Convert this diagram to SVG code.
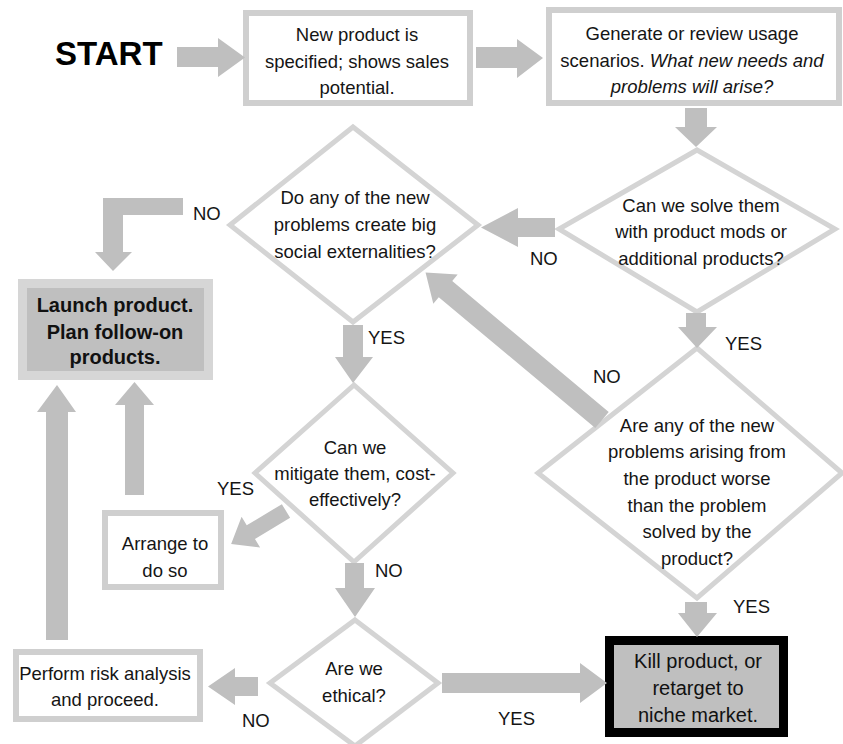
<svg xmlns="http://www.w3.org/2000/svg" width="843" height="744" viewBox="0 0 843 744">
<style>
.t{font-family:"Liberation Sans",Arial,sans-serif;font-size:18.5px;fill:#151515;text-anchor:middle}
.l{font-family:"Liberation Sans",Arial,sans-serif;font-size:18.5px;fill:#151515}
.i{font-style:italic}
.b{font-family:"Liberation Sans",Arial,sans-serif;font-size:20px;font-weight:bold;fill:#111;text-anchor:middle}
.k{font-family:"Liberation Sans",Arial,sans-serif;font-size:20px;fill:#111;text-anchor:middle}
.box{fill:#fff;stroke:#cfcfcf;stroke-width:6}
.dia{fill:none;stroke:#d4d4d4;stroke-width:5}
.arr{fill:#bfbfbf}
</style>
<rect width="843" height="744" fill="#fff"/>
<g id="start"><text x="55" y="65" style="font-family:'Liberation Sans',Arial,sans-serif;font-size:33px;font-weight:bold;fill:#000">START</text></g>
<g id="box1"><rect class="box" x="246" y="13" width="224" height="90"/>
<text class="t" x="357" y="41">New product is</text>
<text class="t" x="357" y="68">specified; shows sales</text>
<text class="t" x="357" y="94">potential.</text></g>
<g id="box2"><rect class="box" x="549" y="10" width="290" height="93"/>
<text class="t" x="692" y="40">Generate or review usage</text>
<text class="t" x="692" y="67">scenarios. <tspan class="i">What new needs and</tspan></text>
<text class="t i" x="692" y="93">problems will arise?</text></g>
<g id="d1"><polygon class="dia" points="697,150 835,229 697,312 559,229"/>
<text class="t" x="701" y="212">Can we solve them</text>
<text class="t" x="701" y="238">with product mods or</text>
<text class="t" x="701" y="265">additional products?</text></g>
<g id="d2"><polygon class="dia" points="353,127 478,225 353,322 230,225"/>
<text class="t" x="355" y="204">Do any of the new</text>
<text class="t" x="355" y="231">problems create big</text>
<text class="t" x="355" y="258">social externalities?</text></g>
<g id="d3"><polygon class="dia" points="697,348 842,473 697,598 538,473"/>
<text class="t" x="697" y="432">Are any of the new</text>
<text class="t" x="697" y="458">problems arising from</text>
<text class="t" x="697" y="485">the product worse</text>
<text class="t" x="697" y="512">than the problem</text>
<text class="t" x="697" y="538">solved by the</text>
<text class="t" x="697" y="565">product?</text></g>
<g id="d4"><polygon class="dia" points="354,385 453,473 354,562 255,473"/>
<text class="t" x="355" y="454">Can we</text>
<text class="t" x="355" y="480">mitigate them, cost-</text>
<text class="t" x="355" y="506">effectively?</text></g>
<g id="d5"><polygon class="dia" points="355,620 438,683 355,746 270,683"/>
<text class="t" x="354" y="675">Are we</text>
<text class="t" x="354" y="702">ethical?</text></g>
<g id="launch"><rect x="22.5" y="283.5" width="186" height="92" fill="#bfbfbf" stroke="#d6d6d6" stroke-width="9"/>
<text class="b" x="115" y="312">Launch product.</text>
<text class="b" x="115" y="339">Plan follow-on</text>
<text class="b" x="115" y="364">products.</text></g>
<g id="arrange"><rect class="box" x="105" y="513" width="116" height="74"/>
<text class="t" x="165" y="550">Arrange to</text>
<text class="t" x="165" y="577">do so</text></g>
<g id="perform"><rect class="box" x="16" y="652" width="184" height="67"/>
<text class="t" x="105" y="680">Perform risk analysis</text>
<text class="t" x="105" y="706">and proceed.</text></g>
<g id="kill"><rect x="609.5" y="640.5" width="174" height="92" fill="#bfbfbf" stroke="#000" stroke-width="9"/>
<text class="k" x="698" y="668">Kill product,  or</text>
<text class="k" x="698" y="695">retarget to</text>
<text class="k" x="698" y="722">niche market.</text></g>
<g id="connectors">
<polygon class="arr" points="177,47 218,47 218,38 245,57.5 218,77 218,67 177,67"/>
<polygon class="arr" points="476,47 517,47 517,39 543,58 517,78 517,68 476,68"/>
<polygon class="arr" points="685,108 707,108 707,127 717,127 696,147 675,127 685,127"/>
<polygon class="arr" points="555,218 518,218 518,208 481,227.5 518,247 518,237 555,237"/>
<polygon class="arr" points="686,313 706,313 706,327 717,327 697,348 678,327 686,327"/>
<polygon class="arr" transform="translate(602,420) rotate(219.9)" points="0,-10.5 204,-10.5 204,-19 230,0 204,19 204,10.5 0,10.5"/>
<polygon class="arr" points="183,198 183,215 123,215 123,252 132,252 113,271 95,252 103,252 103,198"/>
<polygon class="arr" points="343,325 363,325 363,357 373,357 353,383 335,357 343,357"/>
<polygon class="arr" transform="translate(286,511) rotate(149)" points="0,-8 41,-8 41,-18 64,0 41,18 41,8 0,8"/>
<polygon class="arr" points="125,495 144,495 144,405 154,405 134.5,382 115,405 125,405"/>
<polygon class="arr" points="46,640 68,640 68,412 76,412 57,385 37,412 46,412"/>
<polygon class="arr" points="345,563 364,563 364,588 375,588 355,617 335,588 345,588"/>
<polygon class="arr" points="258,677 235,677 235,668 208,686.5 235,705 235,696 258,696"/>
<polygon class="arr" points="442,673 580,673 580,663 607,683 580,703 580,693 442,693"/>
<polygon class="arr" points="685,602 707,602 707,613 717,613 697,637 678,613 685,613"/>
<text class="l" x="193" y="220">NO</text>
<text class="l" x="530" y="265">NO</text>
<text class="l" x="368" y="344">YES</text>
<text class="l" x="725" y="350">YES</text>
<text class="l" x="593" y="383">NO</text>
<text class="l" x="217" y="495">YES</text>
<text class="l" x="375" y="577">NO</text>
<text class="l" x="242" y="727">NO</text>
<text class="l" x="498" y="725">YES</text>
<text class="l" x="733" y="613">YES</text>
</g>
</svg>
